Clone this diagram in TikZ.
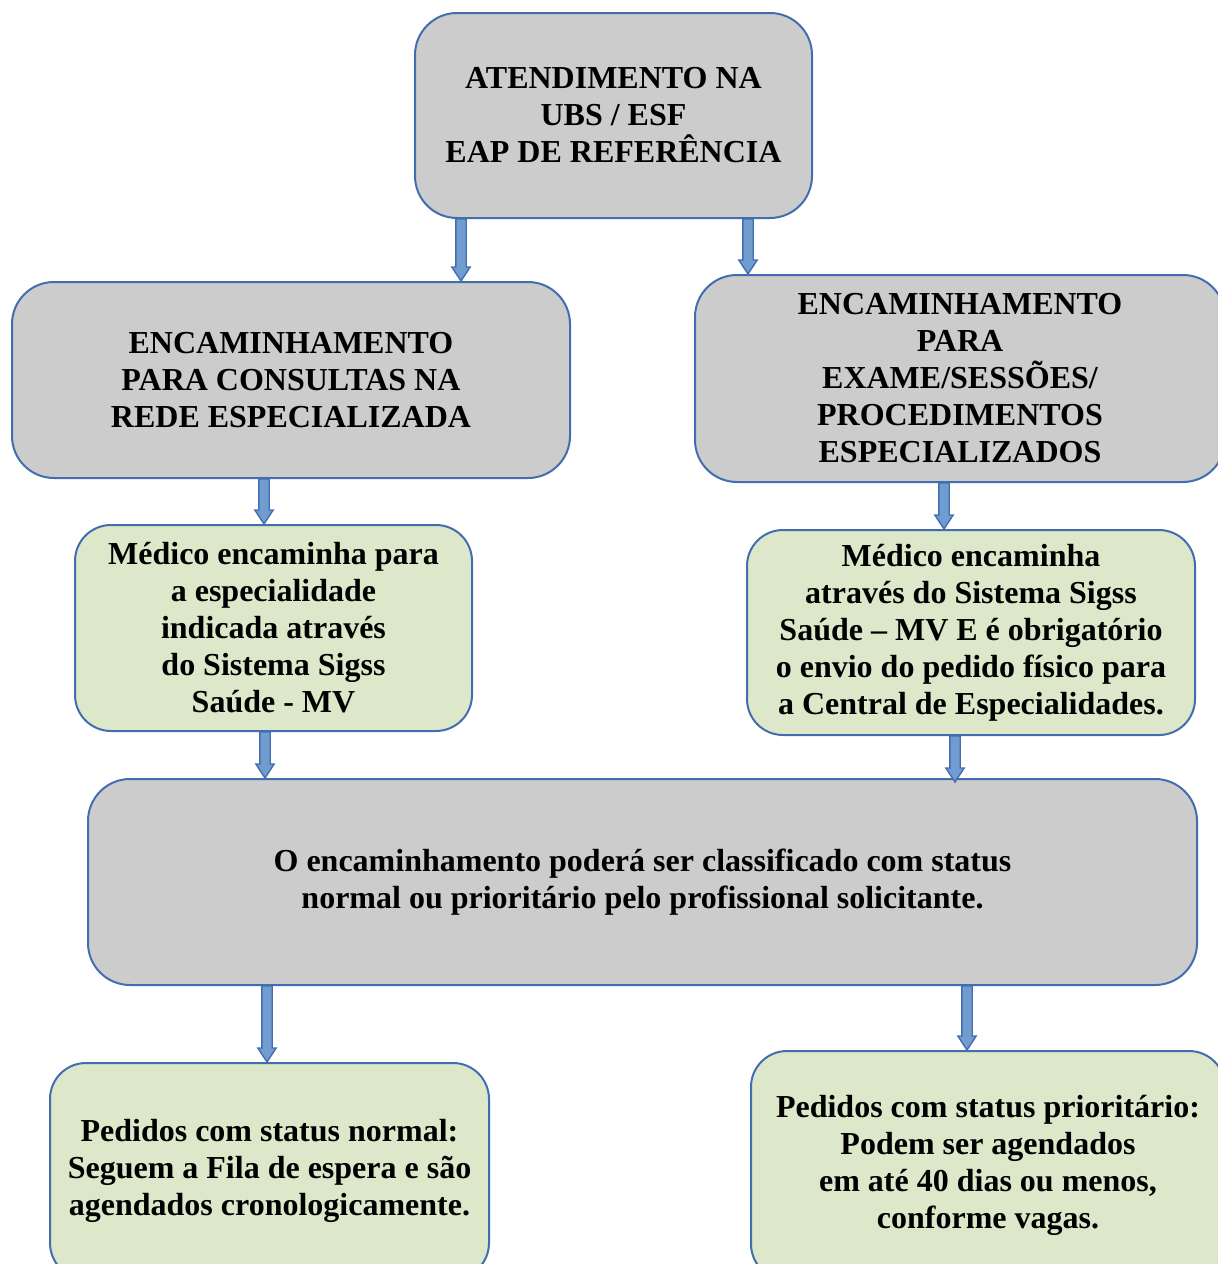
\documentclass[tikz,border=0pt]{standalone}
\usepackage{fontspec}
\setmainfont{Liberation Serif}
\usetikzlibrary{calc}

\definecolor{boxline}{RGB}{66,110,176}
\definecolor{boxgrey}{RGB}{204,204,204}
\definecolor{boxgreen}{RGB}{221,232,202}
\definecolor{arrowfill}{RGB}{112,156,208}

% block arrow going straight down from #1 to #2
\newcommand{\blockarrow}[2]{%
  \draw[flow] let \p1=#1, \p2=#2 in
    (\x1-2.6pt,\y1) -- (\x1+2.6pt,\y1) -- (\x1+2.6pt,\y2+7pt) -- (\x1+4.6pt,\y2+7pt)
    -- (\x1,\y2) -- (\x1-4.6pt,\y2+7pt) -- (\x1-2.6pt,\y2+7pt) -- cycle;}

\begin{document}
\begin{tikzpicture}[
    x=0.5pt, y=-0.5pt,
    box/.style={draw=boxline, line width=1pt, rounded corners=21pt, align=center,
      font=\bfseries\fontsize{16}{18.5}\selectfont, inner sep=0pt},
    greybox/.style={box, fill=boxgrey},
    greenbox/.style={box, fill=boxgreen, rounded corners=18pt},
    flow/.style={draw=boxline, fill=arrowfill, line width=0.7pt, line join=miter}
  ]
  \useasboundingbox (0,0) rectangle (1218,1264);

  \node[greybox, minimum width=198.5pt, minimum height=102.5pt] (atend) at (613.5,115.5)
    {ATENDIMENTO NA\\UBS / ESF\\EAP DE REFERÊNCIA};

  \node[greybox, minimum width=279pt, minimum height=98pt] (consult) at (291,380)
    {ENCAMINHAMENTO\\PARA CONSULTAS NA\\REDE ESPECIALIZADA};

  \node[greybox, minimum width=265pt, minimum height=103.5pt] (exame) at (960,378.5)
    {ENCAMINHAMENTO\\PARA\\EXAME/SESSÕES/\\PROCEDIMENTOS\\ESPECIALIZADOS};

  \node[greenbox, minimum width=198.5pt, minimum height=103pt] (medleft) at (273.5,628)
    {Médico encaminha para\\a especialidade\\indicada através\\do Sistema Sigss\\Saúde - MV};

  \node[greenbox, minimum width=224pt, minimum height=102.5pt] (medright) at (971,632.5)
    {Médico encaminha\\através do Sistema Sigss\\Saúde – MV E é obrigatório\\o envio do pedido físico para\\a Central de Especialidades.};

  \node[greybox, minimum width=554.5pt, minimum height=103pt] (status) at (642.5,882)
    {O encaminhamento poderá ser classificado com status\\normal ou prioritário pelo profissional solicitante.};

  \node[greenbox, minimum width=219.5pt, minimum height=108pt] (normal) at (269.5,1171)
    {Pedidos com status normal:\\Seguem a Fila de espera e são\\agendados cronologicamente.};

  \node[greenbox, minimum width=237pt, minimum height=114.5pt] (priorit) at (988,1165.5)
    {Pedidos com status prioritário:\\Podem ser agendados\\em até 40 dias ou menos,\\conforme vagas.};

  \blockarrow{(atend.south -| 461,0)}{(consult.north -| 461,0)}
  \blockarrow{(atend.south -| 748,0)}{(exame.north -| 748,0)}
  \blockarrow{(consult.south -| 264,0)}{(medleft.north -| 264,0)}
  \blockarrow{(exame.south -| 944,0)}{(medright.north -| 944,0)}
  \blockarrow{(medleft.south -| 265,0)}{(status.north -| 265,0)}
  \blockarrow{(medright.south -| 955,0)}{($(status.north -| 955,0)+(0,4)$)}
  \blockarrow{(status.south -| 267,0)}{(normal.north -| 267,0)}
  \blockarrow{(status.south -| 967,0)}{(priorit.north -| 967,0)}
\end{tikzpicture}
\end{document}
